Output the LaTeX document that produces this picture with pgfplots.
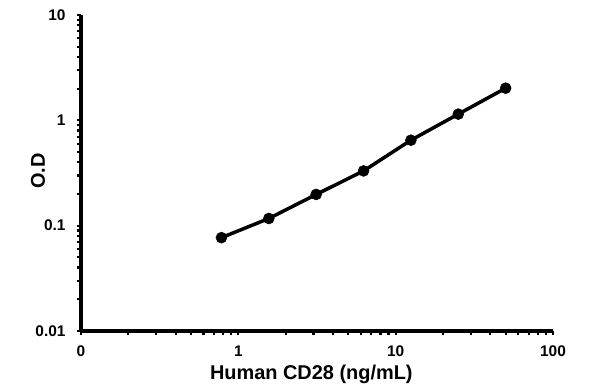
\documentclass[border=0pt]{standalone}
\usepackage{pgfplots}
\pgfplotsset{compat=1.18}
\usepackage{fontspec}
\setmainfont{Liberation Sans}
\begin{document}
\begin{tikzpicture}[x=1bp,y=1bp]
\path[use as bounding box] (-81,-60) rectangle (515,331);
\begin{axis}[
  at={(0,0)}, anchor=south west,
  scale only axis, width=472bp, height=316bp,
  xmode=log, ymode=log,
  xmin=0.1, xmax=100, ymin=0.01, ymax=10,
  axis x line=bottom, axis y line=left,
  axis line style={line width=3.5bp, -},
  tick align=outside,
  major tick length=4bp, minor tick length=4bp,
  every tick/.style={line width=2.2bp, black},
  xtick={0.1,1,10,100}, xticklabels={0,1,10,100},
  ytick={0.01,0.1,1,10}, yticklabels={0.01,0.1,1,10},
  ticklabel style={font=\bfseries\fontsize{15.5}{15.5}\selectfont},
  xticklabel style={yshift=-7bp},
  yticklabel style={xshift=-8bp},
  xlabel={Human CD28 (ng/mL)},
  ylabel={O.D},
  label style={font=\bfseries\fontsize{20}{20}\selectfont},
  xlabel style={at={(axis description cs:0.488,0)}, anchor=base, yshift=-48bp},
  ylabel style={at={(axis description cs:0,0.507)}, anchor=base, rotate=0, yshift=36bp},
  clip=false,
]
\addplot[black, line width=3.5bp, mark=*, mark size=5.5bp, mark options={line width=0.5bp}] coordinates {
  (0.78125,0.077) (1.5625,0.117) (3.125,0.198) (6.25,0.331) (12.5,0.648) (25,1.146) (50,2.02)
};
\end{axis}
\end{tikzpicture}
\end{document}
